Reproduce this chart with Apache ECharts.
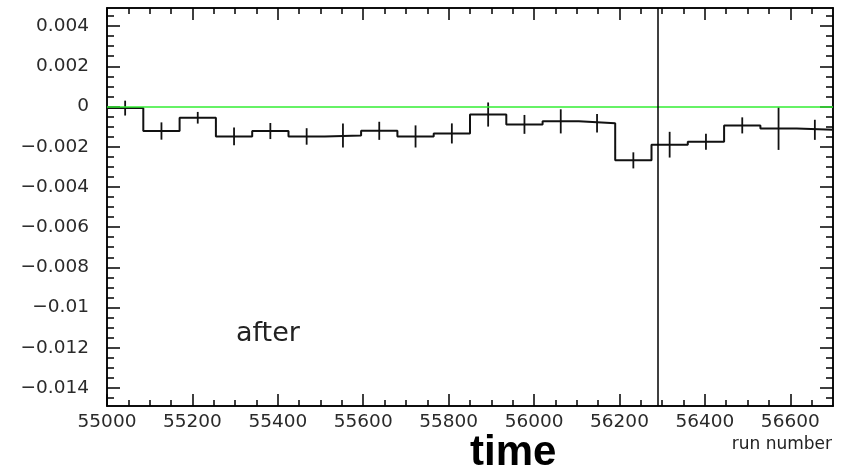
<!DOCTYPE html>
<html>
<head>
<meta charset="utf-8">
<script src="https://cdn.jsdelivr.net/npm/echarts@6/dist/echarts.min.js"></script>
<style>
html, body { margin: 0; padding: 0; background: #fff; }
#chart { width: 841px; height: 476px; }
</style>
</head>
<body>
<div id="chart"></div>
<script>
// bins (lower edge of each run-number bin)
var binLow = [55000, 55085, 55170, 55255, 55340, 55425, 55510, 55595, 55680, 55765,
              55850, 55935, 56020, 56105, 56190, 56275, 56360, 56445, 56530, 56615]
var binWidth = 85
var values = [-0.00008, -0.00122, -0.00056, -0.00149, -0.00122, -0.00149, -0.00144, -0.00121, -0.00149, -0.00134,
              -0.0004, -0.00089, -0.00074, -0.00083, -0.00268, -0.0019, -0.00175, -0.00094, -0.0011, -0.00116]
var errors = [0.00037, 0.00043, 0.00029, 0.00044, 0.0004, 0.00041, 0.0006, 0.00045, 0.00055, 0.0005,
              0.0006, 0.00047, 0.0006, 0.00046, 0.0004, 0.00064, 0.0004, 0.0004, 0.00106, 0.0005]
var cutRun = 56290

var xTicks = [55000, 55200, 55400, 55600, 55800, 56000, 56200, 56400, 56600]
var yTicks = [-0.014, -0.012, -0.01, -0.008, -0.006, -0.004, -0.002, 0, 0.002, 0.004]
var xMin = 55000, xMax = 56700
var yMin = -0.0149, yMax = 0.0049

// minor ticks
var xMinor = []
for (var k = 1101; k <= 1133; k++) {
    if (k % 4 !== 0) xMinor.push(k * 50)
}
var yMinor = []
for (var j = -29; j <= 9; j++) {
    if (j % 4 !== 0) yMinor.push(+(j * 0.0005).toFixed(4))
}

// step line points: every bin edge, last one closes the last bin
var stepData = []
binLow.forEach(function (lo, i) {
    stepData.push([lo, values[i]])
})
stepData.push([xMax, values[values.length - 1]])

var errData = binLow.map(function (lo, i) {
    return [lo + binWidth / 2, values[i], errors[i]]
})

var lab = { fontFamily: 'DejaVu Sans', fontSize: 18.5, color: '#2a2a2a' }

function xAxisDef(pos, ticks, len, labels) {
    return {
        type: 'value', position: pos, min: xMin, max: xMax,
        axisLine: { show: true, onZero: false, lineStyle: { color: '#000', width: 1.5 } },
        axisTick: { show: true, inside: true, length: len, customValues: ticks, lineStyle: { color: '#000', width: 1.5 } },
        axisLabel: labels ? Object.assign({
            show: true, margin: 7, customValues: ticks,
            formatter: function (v) { return String(v) }
        }, lab) : { show: false },
        splitLine: { show: false }
    }
}
function yAxisDef(pos, ticks, len, labels) {
    return {
        type: 'value', position: pos, min: yMin, max: yMax,
        axisLine: { show: true, onZero: false, lineStyle: { color: '#000', width: 1.5 } },
        axisTick: { show: true, inside: true, length: len, customValues: ticks, lineStyle: { color: '#000', width: 1.5 } },
        axisLabel: labels ? Object.assign({
            show: true, margin: 18, customValues: ticks,
            formatter: function (v) {
                if (Math.abs(v) < 1e-9) return '0'
                return String(+v.toFixed(3)).replace('-', '\u2212')
            }
        }, lab) : { show: false },
        splitLine: { show: false }
    }
}

var option = {
    animation: false,
    backgroundColor: '#fff',
    grid: { left: 107, right: 8, top: 8, bottom: 70 },
    xAxis: [
        xAxisDef('bottom', xTicks, 12, true),
        xAxisDef('bottom', xMinor, 6, false),
        xAxisDef('top', xTicks, 12, false),
        xAxisDef('top', xMinor, 6, false)
    ],
    yAxis: [
        yAxisDef('left', yTicks, 13, true),
        yAxisDef('left', yMinor, 7, false),
        yAxisDef('right', yTicks, 13, false),
        yAxisDef('right', yMinor, 7, false)
    ],
    series: [
        {
            type: 'line',
            data: stepData,
            step: 'end',
            symbol: 'none',
            lineStyle: { color: '#111', width: 2 },
            markLine: {
                silent: true,
                symbol: 'none',
                label: { show: false },
                data: [
                    { yAxis: 0, lineStyle: { color: '#33ee33', width: 1.5, type: 'solid' } },
                    { xAxis: cutRun, lineStyle: { color: '#000', width: 1.5, type: 'solid' } }
                ]
            }
        },
        {
            type: 'custom',
            data: errData,
            encode: { x: 0, y: 1 },
            renderItem: function (params, api) {
                var x = api.value(0), v = api.value(1), e = api.value(2)
                var hi = api.coord([x, v + e])
                var lo = api.coord([x, v - e])
                return {
                    type: 'line',
                    shape: { x1: hi[0], y1: hi[1], x2: lo[0], y2: lo[1] },
                    style: { stroke: '#111', lineWidth: 1.8 }
                }
            }
        }
    ],
    graphic: [
        {
            type: 'text', left: 236, top: 320,
            style: { text: 'after', font: '27px "DejaVu Sans", sans-serif', fill: '#222' }
        },
        {
            type: 'text', right: 9, top: 436,
            style: { text: 'run number', font: '17px "DejaVu Sans", sans-serif', fill: '#222' }
        },
        {
            type: 'text', left: 470, top: 432,
            style: { text: 'time', font: 'bold 42px "Liberation Sans", Arial, sans-serif', fill: '#000' }
        }
    ]
}

// eslint-disable-next-line no-undef
var myChart = echarts.init(document.getElementById('chart'))
myChart.setOption(option)
</script>
</body>
</html>
